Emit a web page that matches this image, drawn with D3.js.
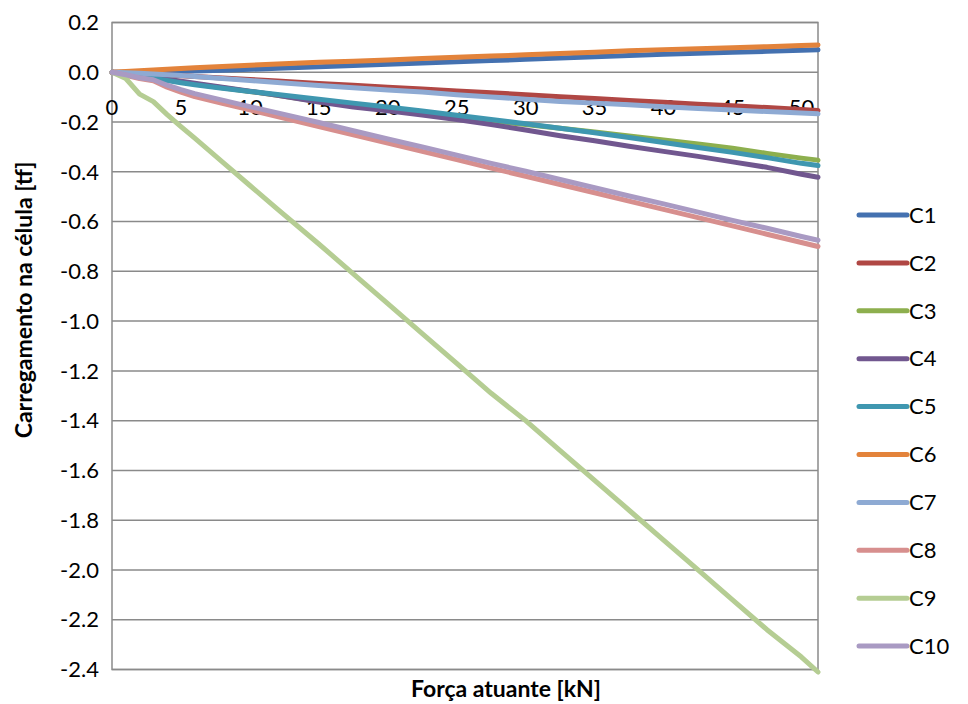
<!DOCTYPE html>
<html><head><meta charset="utf-8">
<script src="https://cdn.jsdelivr.net/npm/d3@7"></script>
<style>
body{margin:0;background:#fff;}
text{font-family:Lato,"Open Sans",sans-serif;fill:#000;}
</style></head>
<body>
<svg id="chart" width="968" height="704"></svg>
<script>
const forca = [0,1,2,3,4,5,6,8,10,12,15,17.5,20,22.5,25,27.5,30,32.5,35,37.5,40,42.5,45,47.5,50,51.2];
const C1 = [0,0,0.001,0.002,0.003,0.004,0.005,0.008,0.012,0.016,0.022,0.027,0.032,0.037,0.042,0.047,0.052,0.057,0.062,0.067,0.072,0.076,0.08,0.084,0.088,0.09];
const C2 = [0,-0.002,-0.005,-0.008,-0.011,-0.014,-0.017,-0.023,-0.029,-0.035,-0.045,-0.052,-0.06,-0.067,-0.075,-0.082,-0.09,-0.098,-0.105,-0.113,-0.12,-0.128,-0.135,-0.142,-0.15,-0.154];
const C3 = [0,-0.005,-0.012,-0.02,-0.029,-0.038,-0.047,-0.062,-0.077,-0.092,-0.118,-0.135,-0.15,-0.165,-0.18,-0.195,-0.21,-0.225,-0.24,-0.256,-0.272,-0.288,-0.305,-0.326,-0.345,-0.353];
const C4 = [0,-0.006,-0.013,-0.02,-0.028,-0.036,-0.044,-0.06,-0.076,-0.092,-0.12,-0.14,-0.155,-0.172,-0.19,-0.21,-0.232,-0.255,-0.275,-0.297,-0.318,-0.338,-0.36,-0.382,-0.41,-0.422];
const C5 = [0,-0.006,-0.015,-0.024,-0.033,-0.042,-0.05,-0.064,-0.077,-0.089,-0.108,-0.124,-0.14,-0.156,-0.173,-0.19,-0.207,-0.225,-0.243,-0.262,-0.282,-0.302,-0.322,-0.343,-0.366,-0.375];
const C6 = [0,0.003,0.006,0.009,0.012,0.015,0.018,0.023,0.028,0.033,0.04,0.044,0.049,0.055,0.06,0.065,0.07,0.075,0.08,0.086,0.091,0.095,0.099,0.103,0.108,0.11];
const C7 = [0,-0.002,-0.004,-0.007,-0.01,-0.013,-0.017,-0.025,-0.033,-0.041,-0.053,-0.062,-0.071,-0.079,-0.09,-0.099,-0.108,-0.117,-0.124,-0.131,-0.139,-0.146,-0.152,-0.158,-0.164,-0.167];
const C8 = [0,-0.012,-0.025,-0.034,-0.06,-0.08,-0.098,-0.125,-0.151,-0.178,-0.218,-0.251,-0.285,-0.318,-0.351,-0.385,-0.418,-0.451,-0.484,-0.518,-0.551,-0.584,-0.617,-0.651,-0.684,-0.70];
const C9 = [0,-0.025,-0.088,-0.118,-0.17,-0.218,-0.265,-0.36,-0.455,-0.55,-0.69,-0.81,-0.93,-1.05,-1.17,-1.29,-1.40,-1.52,-1.64,-1.76,-1.88,-2.0,-2.12,-2.24,-2.35,-2.41];
const C10 = [0,-0.01,-0.022,-0.03,-0.052,-0.07,-0.086,-0.112,-0.138,-0.163,-0.202,-0.235,-0.268,-0.3,-0.333,-0.366,-0.398,-0.431,-0.464,-0.497,-0.529,-0.562,-0.595,-0.627,-0.66,-0.675];
const seriesNames = ["C1","C2","C3","C4","C5","C6","C7","C8","C9","C10"];
const seriesValues = [C1,C2,C3,C4,C5,C6,C7,C8,C9,C10];
const colors = ["#4471b0","#b04744","#8daf4e","#71578f","#3f97b0","#e3833b","#8eaad3","#d78f8e","#b5cd93","#a99ac3"];
const xTicks = [0,5,10,15,20,25,30,35,40,45,50];
const yTicks = [0.2,0,-0.2,-0.4,-0.6,-0.8,-1.0,-1.2,-1.4,-1.6,-1.8,-2.0,-2.2,-2.4];

const svg = d3.select("#chart");
const L=112, R=818, T=22.5, B=669.5;
const x = d3.scaleLinear().domain([0,51.2]).range([L,R]);
const y = d3.scaleLinear().domain([0.2,-2.4]).range([T,B]);

svg.append("g").selectAll("line").data(yTicks).join("line")
  .attr("x1",L).attr("x2",R).attr("y1",d=>y(d)).attr("y2",d=>y(d))
  .attr("stroke","#8a8a8a").attr("stroke-width",1.5);
svg.append("rect").attr("x",L).attr("y",T).attr("width",R-L).attr("height",B-T)
  .attr("fill","none").attr("stroke","#8a8a8a").attr("stroke-width",1.5);

svg.append("g").selectAll("text").data(yTicks).join("text")
  .attr("x",99).attr("y",d=>y(d)).attr("dy","0.35em").attr("text-anchor","end")
  .attr("font-size",22).text(d=>d3.format(".1f")(d).replace("−","-"));

svg.append("g").selectAll("text").data(xTicks).join("text")
  .attr("x",d=>x(d)).attr("y",y(0)+35).attr("dy","0.35em").attr("text-anchor","middle")
  .attr("font-size",22).text(d=>d);

const line = d3.line().x((d,i)=>x(forca[i])).y(d=>y(d));
svg.append("g").selectAll("path").data(seriesValues).join("path")
  .attr("d",d=>line(d)).attr("fill","none")
  .attr("stroke",(d,i)=>colors[i]).attr("stroke-width",5)
  .attr("stroke-linejoin","round").attr("stroke-linecap","round");

svg.append("text").attr("x",506).attr("y",689).attr("dy","0.35em")
  .attr("text-anchor","middle").attr("font-size",23).attr("font-weight","bold")
  .text("Força atuante [kN]");
svg.append("text").attr("transform","translate(24,300) rotate(-90)")
  .attr("dy","0.35em").attr("text-anchor","middle").attr("font-size",23).attr("font-weight","bold")
  .text("Carregamento na célula [tf]");

const lg = svg.append("g").selectAll("g").data(seriesNames).join("g")
  .attr("transform",(d,i)=>"translate(0,"+(215+i*47.9)+")");
lg.append("line").attr("x1",859).attr("x2",907).attr("y1",0).attr("y2",0)
  .attr("stroke",(d,i)=>colors[i]).attr("stroke-width",5).attr("stroke-linecap","round");
lg.append("text").attr("x",909).attr("y",0).attr("dy","0.35em").attr("font-size",22).text(d=>d);
</script>
</body></html>
